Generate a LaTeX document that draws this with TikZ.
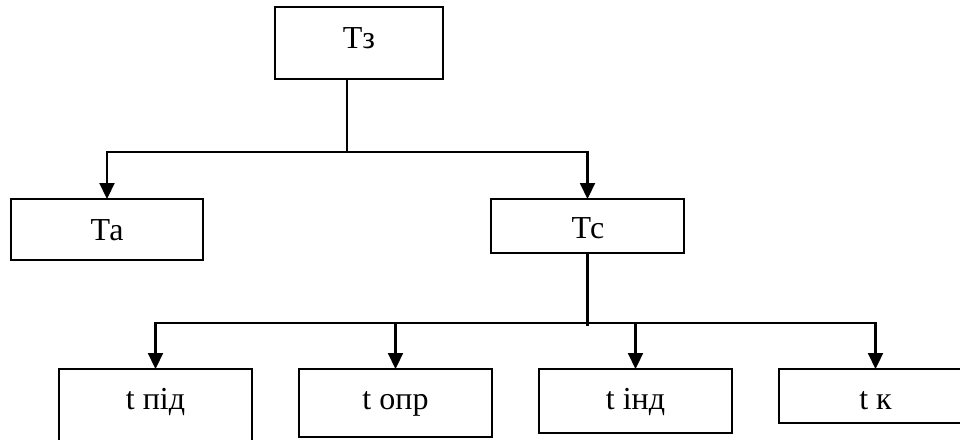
\documentclass[tikz,border=0pt]{standalone}
\usepackage{fontspec}
\setmainfont{Liberation Serif}
\usetikzlibrary{arrows.meta}
\begin{document}
\begin{tikzpicture}[x=1pt,y=-1pt,
  box/.style={draw=black,line width=2.2pt,rectangle,anchor=north west,inner sep=0pt,outer sep=0pt,minimum width=193pt},
  lbl/.style={anchor=base,inner sep=0pt,font=\fontsize{32}{38}\selectfont},
  conn/.style={line width=2.2pt},
  arr/.style={line width=2.2pt,-{Triangle[width=15pt,length=16pt]}}]
\useasboundingbox (0,0) rectangle (960,439);
% boxes
\node[box,minimum width=168pt,minimum height=72pt] (tz) at (275,7) {};
\node[box,minimum width=192pt,minimum height=61pt] (ta) at (11,199) {};
\node[box,minimum width=193pt,minimum height=54pt] (tc) at (491,199) {};
\node[box,minimum height=80pt] (pid) at (59,369) {};
\node[box,minimum height=68pt] (opr) at (299,369) {};
\node[box,minimum height=64pt] (ind) at (539,369) {};
\node[box,minimum height=54pt] (tk) at (779,369) {};
% labels
\node[lbl] (tzt) at (359,48) {Тз};
\node[lbl] (tat) at (107,240) {Та};
\node[lbl] (tct) at (588,238) {Тс};
\node[lbl] (pidt) at (155.5,409) {t під};
\node[lbl] (oprt) at (395.5,409) {t опр};
\node[lbl] (indt) at (635.5,409) {t інд};
\node[lbl] (tkt) at (875.5,409) {t к};
% connectors
\coordinate (j1) at (347,152);
\coordinate (j2) at (587.5,323);
\coordinate (j2e) at (587.5,326);
\draw[conn] (j1 |- tz.south) -- (j1);
\draw[arr] (j1) -| (ta.north);
\draw[arr] (j1) -| (tc.north);
\draw[conn] (tc.south) -- (tc.south |- j2e);
\draw[arr] (j2) -| (pid.north);
\draw[arr] (j2) -| (opr.north);
\draw[arr] (j2) -| (ind.north);
\draw[arr] (j2) -| (tk.north);
\end{tikzpicture}
\end{document}
